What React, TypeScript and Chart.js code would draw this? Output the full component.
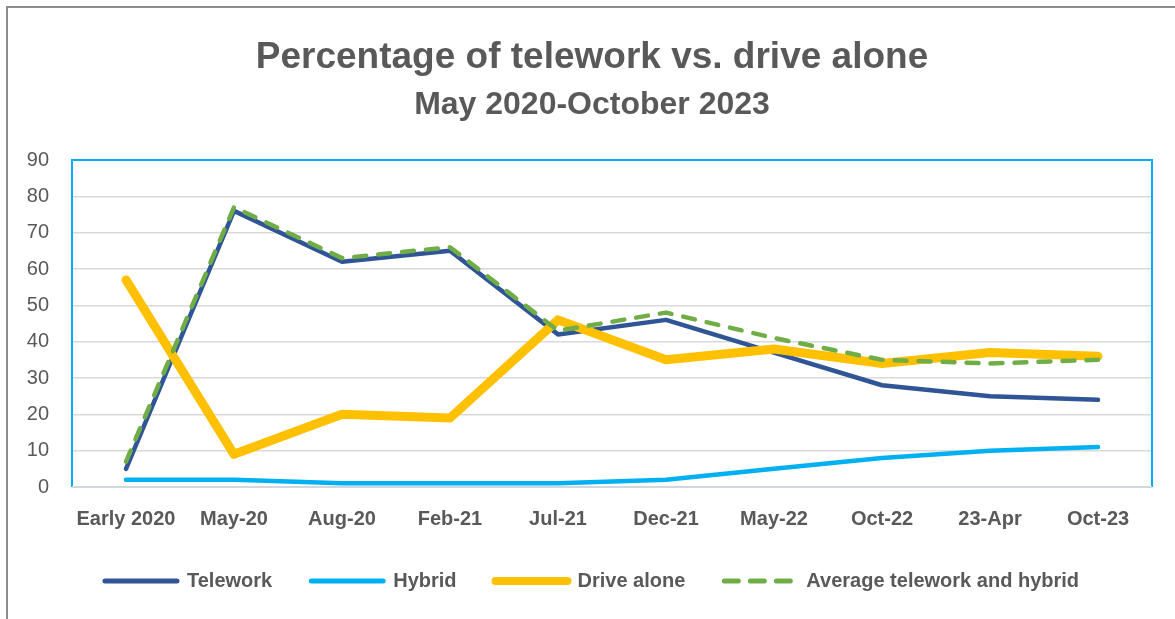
import React, { useEffect, useRef } from "react";
import { Chart, registerables } from "chart.js";

Chart.register(...registerables);

const categories = ["Early 2020", "May-20", "Aug-20", "Feb-21", "Jul-21", "Dec-21", "May-22", "Oct-22", "23-Apr", "Oct-23"];
const telework = [5, 76, 62, 65, 42, 46, 37, 28, 25, 24];
const hybrid = [2, 2, 1, 1, 1, 2, 5, 8, 10, 11];
const driveAlone = [57, 9, 20, 19, 46, 35, 38, 34, 37, 36];
const averageTeleworkHybrid = [7, 77, 63, 66, 43, 48, 41, 35, 34, 35];
const seriesNames = ["Telework", "Hybrid", "Drive alone", "Average telework and hybrid"];
const titleText = "Percentage of telework vs. drive alone";
const subtitleText = "May 2020-October 2023";

const FONT = "'Liberation Sans', Arial, sans-serif";
const TEXT = "#595959";

const framePlugin = {
  id: "frame",
  beforeDraw(chart: any) {
    const ctx = chart.ctx;
    ctx.save();
    ctx.fillStyle = "#ffffff";
    ctx.fillRect(0, 0, chart.width, chart.height);
    ctx.strokeStyle = "#8C8C8C";
    ctx.lineWidth = 2;
    ctx.strokeRect(7, 7, chart.width + 50, chart.height + 50);
    ctx.restore();
  },
  beforeDatasetsDraw(chart: any) {
    const { ctx, chartArea } = chart;
    ctx.save();
    ctx.strokeStyle = "#00B0F0";
    ctx.lineWidth = 2;
    ctx.beginPath();
    ctx.moveTo(chartArea.left, chartArea.bottom);
    ctx.lineTo(chartArea.left, chartArea.top);
    ctx.lineTo(chartArea.right, chartArea.top);
    ctx.lineTo(chartArea.right, chartArea.bottom);
    ctx.stroke();
    ctx.strokeStyle = "#D0D8DE";
    ctx.beginPath();
    ctx.moveTo(chartArea.left, chartArea.bottom);
    ctx.lineTo(chartArea.right, chartArea.bottom);
    ctx.stroke();
    ctx.restore();
  },
};

export default function App() {
  const ref = useRef<HTMLCanvasElement | null>(null);
  useEffect(() => {
    if (!ref.current) return;
    const chart = new Chart(ref.current, {
      type: "line",
      data: {
        labels: categories,
        datasets: [
          { label: seriesNames[0], data: telework, borderColor: "#2F5597", backgroundColor: "#2F5597", borderWidth: 4.5, order: 4, borderCapStyle: "round", borderJoinStyle: "round" },
          { label: seriesNames[1], data: hybrid, borderColor: "#00B0F0", backgroundColor: "#00B0F0", borderWidth: 4.5, order: 3, borderCapStyle: "round", borderJoinStyle: "round" },
          { label: seriesNames[2], data: driveAlone, borderColor: "#FFC000", backgroundColor: "#FFC000", borderWidth: 9, order: 2, borderCapStyle: "round", borderJoinStyle: "round" },
          { label: seriesNames[3], data: averageTeleworkHybrid, borderColor: "#70AD47", backgroundColor: "#70AD47", borderWidth: 4.5, order: 1, borderDash: [12, 12], borderCapStyle: "round", borderJoinStyle: "round" },
        ] as any,
      },
      options: {
        responsive: false,
        animation: false,
        elements: { point: { radius: 0, hoverRadius: 0 }, line: { tension: 0 } },
        layout: { padding: { left: 16, right: 7, top: 28, bottom: 27 } },
        scales: {
          x: {
            offset: true,
            grid: { display: false, drawTicks: false },
            border: { display: false },
            ticks: { color: TEXT, font: { family: FONT, size: 20, weight: "bold" }, padding: 20, maxRotation: 0, autoSkip: false },
            afterFit: (s: any) => { s.height = 45; },
          },
          y: {
            min: 0,
            max: 90,
            grid: { color: "#D9D9D9", lineWidth: 1.5, drawTicks: false },
            border: { display: false },
            ticks: { stepSize: 10, color: TEXT, font: { family: FONT, size: 20 }, padding: 23 },
            afterFit: (s: any) => { s.width = 56; },
          },
          yRight: {
            type: "linear",
            position: "right",
            display: true,
            grid: { display: false, drawTicks: false },
            border: { display: false },
            ticks: { display: false },
            afterFit: (s: any) => { s.width = 16; },
          },
        },
        plugins: {
          title: {
            display: true,
            text: titleText,
            color: TEXT,
            font: { family: FONT, size: 37, weight: "bold", lineHeight: 1 },
            padding: { top: 11.5, bottom: 0 },
          },
          subtitle: {
            display: true,
            text: subtitleText,
            color: TEXT,
            font: { family: FONT, size: 32, weight: "bold", lineHeight: 1 },
            padding: { top: 13, bottom: 38.5 },
          },
          legend: {
            position: "bottom",
            maxHeight: 60,
            labels: {
              usePointStyle: true,
              pointStyle: "line",
              pointStyleWidth: 72,
              boxHeight: 20,
              padding: 39,
              color: TEXT,
              font: { family: FONT, size: 20, weight: "bold" },
              sort: (a: any, b: any) => a.datasetIndex - b.datasetIndex,
              generateLabels: (c: any) => {
                const items = (Chart as any).defaults.plugins.legend.labels.generateLabels(c);
                return items.map((it: any) => {
                  const ds = c.data.datasets[it.datasetIndex];
                  it.lineDash = ds.borderDash ? [14, 12] : [];
                  it.lineCap = "round";
                  it.lineWidth = ds.borderWidth > 6 ? 8 : 5;
                  return it;
                });
              },
            },
          },
          tooltip: { enabled: false },
        },
      } as any,
      plugins: [framePlugin],
    });
    return () => chart.destroy();
  }, []);
  return (
    <div style={{ position: "absolute", left: 0, top: 0, width: 1175, height: 619 }}>
      <canvas ref={ref} width={1175} height={619} style={{ width: 1175, height: 619, display: "block" }} />
    </div>
  );
}
